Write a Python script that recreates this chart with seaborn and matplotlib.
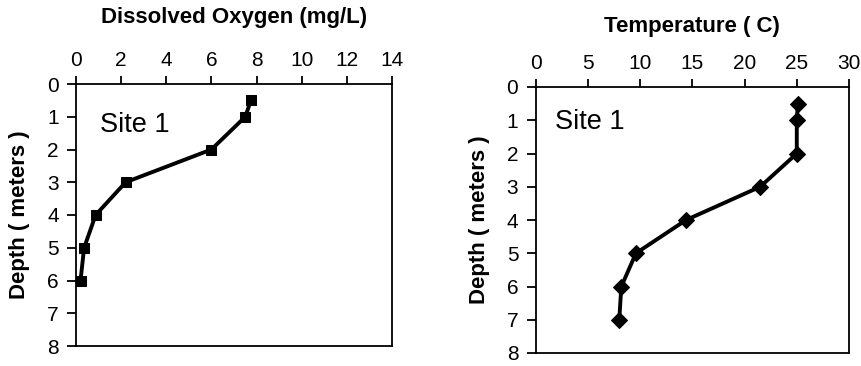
import matplotlib
matplotlib.use("Agg")
import matplotlib.pyplot as plt
import seaborn as sns
import pandas as pd

# Data
do_depth = [0.5, 1, 2, 3, 4, 5, 6]
do_values = [7.75, 7.5, 6.0, 2.2, 0.87, 0.36, 0.2]
temp_depth = [0.5, 1, 2, 3, 4, 5, 6, 7]
temp_values = [25.1, 25.0, 25.0, 21.5, 14.4, 9.6, 8.2, 8.0]
do_ticks = [0, 2, 4, 6, 8, 10, 12, 14]
temp_ticks = [0, 5, 10, 15, 20, 25, 30]
depth_ticks = [0, 1, 2, 3, 4, 5, 6, 7, 8]

sns.set_style("white")
plt.rcParams['font.family'] = ['Liberation Sans', 'DejaVu Sans']
plt.rcParams['text.color'] = 'black'
plt.rcParams['axes.labelcolor'] = 'black'

fig = plt.figure(figsize=(8.62, 3.66), dpi=100)
ax1 = fig.add_axes([76/862, 1-346/366, (392-76)/862, (346-84)/366])
ax2 = fig.add_axes([535.7/862, 1-353/366, (849-535.7)/862, (353-87)/366])

df1 = pd.DataFrame({"x": do_values, "depth": do_depth})
df2 = pd.DataFrame({"x": temp_values, "depth": temp_depth})

sns.lineplot(data=df1, x="x", y="depth", sort=False, estimator=None, ax=ax1,
             color="black", linewidth=2.8, marker="s", markersize=7.5,
             markeredgecolor="black")
sns.lineplot(data=df2, x="x", y="depth", sort=False, estimator=None, ax=ax2,
             color="black", linewidth=2.8, marker="D", markersize=8.0,
             markeredgecolor="black")

def style(ax, xticks, xlim, xlabel, xpad):
    ax.set_xlim(*xlim)
    ax.set_ylim(8, 0)
    ax.set_xticks(xticks)
    ax.set_yticks(depth_ticks)
    ax.xaxis.set_label_position("top")
    ax.xaxis.tick_top()
    ax.tick_params(axis="x", which="both", top=True, bottom=False, labeltop=True,
                   labelbottom=False, direction="out", length=6, width=1.3,
                   labelsize=15, pad=4, colors="black")
    ax.tick_params(axis="y", which="both", left=True, direction="out", length=6.5,
                   width=1.3, labelsize=15, pad=6, colors="black")
    for s in ax.spines.values():
        s.set_visible(True)
        s.set_color("black")
        s.set_linewidth(1.3)
    ax.set_xlabel(xlabel, fontsize=16, fontweight="bold", labelpad=xpad, color="black")
    ax.set_ylabel("Depth ( meters )", fontsize=16, fontweight="bold", labelpad=12,
                  color="black")
    ax.grid(False)

style(ax1, do_ticks, (0, 14), "Dissolved Oxygen (mg/L)", 20)
style(ax2, temp_ticks, (0, 30), "Temperature ( C)", 16)

ax1.text(0.076, 0.843, "Site 1", transform=ax1.transAxes, fontsize=19.5,
         va="center", ha="left", color="black")
ax2.text(0.062, 0.87, "Site 1", transform=ax2.transAxes, fontsize=19.5,
         va="center", ha="left", color="black")

fig.savefig("out.png", dpi=100)
